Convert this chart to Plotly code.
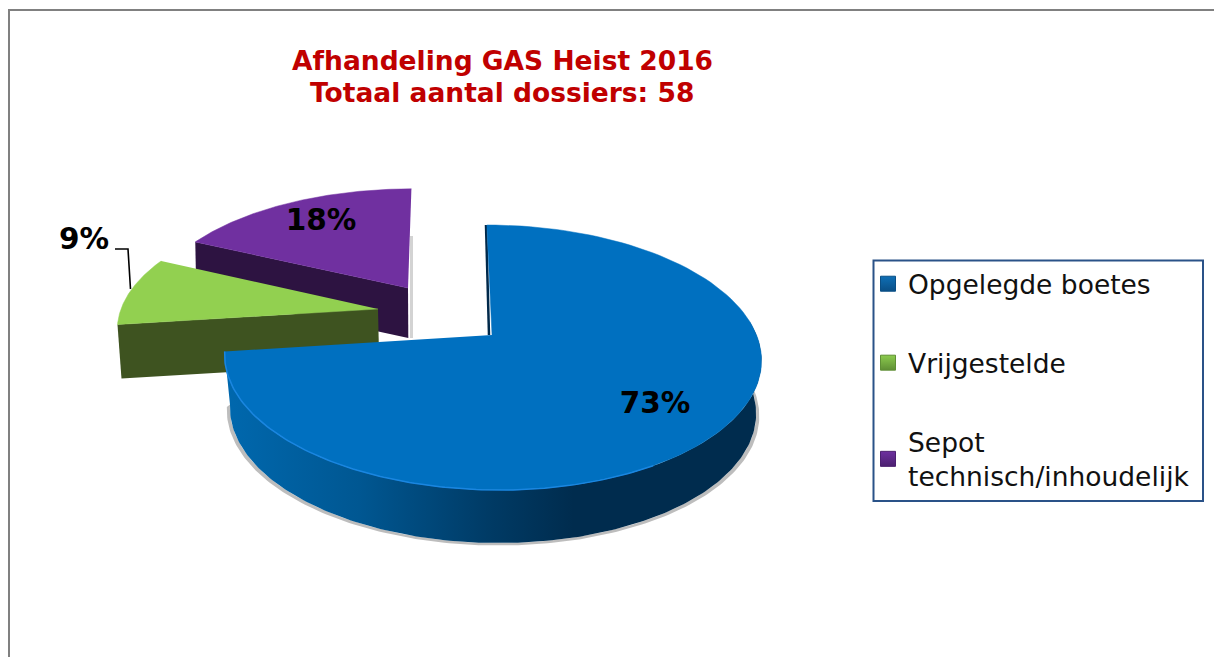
import numpy as np
import plotly.graph_objects as go

# ---- data ----
categories = ["Opgelegde boetes", "Vrijgestelde", "Sepot<br>technisch/inhoudelijk"]
percentages = [73, 9, 18]
title_lines = ["Afhandeling GAS Heist 2016", "Totaal aantal dossiers: 58"]

# ---- styling ----
W, H = 1214, 657
TOP = ["#0070C0", "#92D050", "#7030A0"]
SIDE = ["#00508A", "#3E5320", "#2D1341"]
LEGEND_MARK = ["#0F6FB5", "#8CCB4E", "#6E30A0"]
LEGEND_DARK = ["#0A4F86", "#5F8F35", "#4C2070"]
FONT = "DejaVu Sans"
# per-slice projection: apex x, apex y, horizontal radius, vertical radius, skew, depth
PROJ = [
    dict(ax=492, ay=335, B=264.5, A=128.7, sk=-6, dx=4, dy=54),
    dict(ax=378, ay=309, B=257, A=121, sk=0, dx=4, dy=54),
    dict(ax=408, ay=288, B=254, A=116, sk=4, dx=1, dy=50),
]
PERSP = 0.17

fracs = np.array(percentages) / sum(percentages)
edges = np.concatenate([[0], np.cumsum(fracs)]) * 2 * np.pi


def rim(p, t):
    X, Y = np.sin(t), np.cos(t)
    d = 1 + PERSP * Y
    return p["ax"] + (p["B"] * X + p["sk"] * Y) / d, p["ay"] - p["A"] * Y / d


def poly(xs, ys, color=None, grad=None, line=None):
    kw = dict(x=list(xs), y=list(ys), mode="lines", fill="toself", showlegend=False,
              hoverinfo="skip", line=dict(width=0.5 if line else 0, color=line or "rgba(0,0,0,0)"))
    if grad:
        kw["fillgradient"] = dict(type="horizontal", colorscale=grad)
    else:
        kw["fillcolor"] = color
    return go.Scatter(**kw)


def radial_face(p, t, color):
    x, y = rim(p, np.array([t]))
    xs = [x[0], p["ax"], p["ax"] + p["dx"] * 0.3, x[0] + p["dx"]]
    ys = [y[0], p["ay"], p["ay"] + p["dy"], y[0] + p["dy"]]
    return poly(xs, ys, color)


def top_face(p, t0, t1, color):
    t = np.linspace(t0, t1, 120)
    x, y = rim(p, t)
    return poly(np.r_[p["ax"], x], np.r_[p["ay"], y], color, line=color)


traces = []

# purple slice
p = PROJ[2]
tx = np.array([p["ax"] + 5, p["ax"] + 5, p["ax"] + 2, p["ax"] + 2])
traces.append(poly(tx, [p["ay"] - 52, p["ay"] + 50, p["ay"] + 50, p["ay"] - 52], "rgba(110,110,110,0.3)"))
traces.append(radial_face(p, edges[2], SIDE[2]))
traces.append(top_face(p, edges[2], edges[3], TOP[2]))

# green slice
p = PROJ[1]
x_end, y_end = rim(p, np.array([edges[2]]))
traces.append(poly([x_end[0] + p["dx"] - 2, p["ax"], p["ax"], x_end[0] + p["dx"] - 2],
                   [y_end[0] + p["dy"] - 4, p["ay"] + p["dy"] - 6, p["ay"] + p["dy"] - 2, y_end[0] + p["dy"] + 2],
                   "rgba(110,110,110,0.4)"))
traces.append(radial_face(p, edges[1], SIDE[1]))
traces.append(top_face(p, edges[1], edges[2], TOP[1]))

# blue slice
p = PROJ[0]
ts = np.linspace(np.radians(84), edges[1], 200)
sx, sy = rim(p, ts)
bx, by = p["ax"] + (sx - p["ax"]) * 0.98, sy + p["dy"] - 1
shx, shy = p["ax"] + (bx - p["ax"]) * 1.012, by + 2.5
traces.append(poly(np.r_[bx, shx[::-1]], np.r_[by, shy[::-1]], "rgba(90,90,90,0.4)"))
traces.append(poly(np.r_[sx, bx[::-1]], np.r_[sy, by[::-1]],
                   grad=[[0, "#0068AE"], [0.25, "#005792"], [0.5, "#003A64"],
                         [0.65, "#002C4E"], [1, "#002C4E"]]))
traces.append(go.Scatter(x=[p["ax"] - 3, p["ax"] - 6], y=[p["ay"], p["ay"] - 110], mode="lines",
                         line=dict(color="#00294A", width=2.5), showlegend=False, hoverinfo="skip"))
traces.append(top_face(p, edges[0], edges[1], TOP[0]))
hl = np.linspace(np.radians(150), edges[1], 120)
hx, hy = rim(p, hl)
traces.append(go.Scatter(x=hx, y=hy, mode="lines", line=dict(color="#1A86E0", width=1.5),
                         showlegend=False, hoverinfo="skip"))

# leader line for the small slice
traces.append(go.Scatter(x=[115, 128, 130.5], y=[249, 249, 289], mode="lines",
                         line=dict(color="#000", width=1.6), showlegend=False, hoverinfo="skip"))

# percentage labels
LABEL_XY = [(655, 406), (84, 242), (321, 223)]
for v, (lx, ly) in zip(percentages, LABEL_XY):
    traces.append(go.Scatter(x=[lx], y=[ly], mode="text", text=[f"{v}%"], showlegend=False,
                             textposition="middle center", hoverinfo="skip",
                             textfont=dict(family=FONT, size=29.5, color="#000", weight="bold")))

# legend entries
for i, name in enumerate(categories):
    traces.append(go.Scatter(x=[None], y=[None], mode="markers", name=name, legendgroup=str(i),
                             marker=dict(symbol="square", size=15, color=LEGEND_MARK[i],
                                         gradient=dict(type="vertical", color=LEGEND_DARK[i]),
                                         line=dict(color=LEGEND_DARK[i], width=1))))

fig = go.Figure(traces)
title_ann = [dict(x=502 / W, y=1 - yy / H, xref="paper", yref="paper", showarrow=False,
                  yanchor="middle", xanchor="center", text=f"<b>{t}</b>",
                  font=dict(family=FONT, size=26.5, color="#C00000"))
             for t, yy in zip(title_lines, (60, 92))]
fig.update_layout(
    width=W, height=H, margin=dict(l=0, r=0, t=0, b=0),
    paper_bgcolor="#fff", plot_bgcolor="#fff", hovermode=False,
    xaxis=dict(range=[0, W], visible=False, fixedrange=True),
    yaxis=dict(range=[H, 0], visible=False, fixedrange=True),
    font=dict(family=FONT),
    legend=dict(x=868 / W, xanchor="left", y=1 - 260 / H, yanchor="top",
                font=dict(family=FONT, size=26.5, color="#111"),
                tracegroupgap=41.5, bgcolor="rgba(0,0,0,0)", borderwidth=0),
    annotations=title_ann,
    shapes=[
        dict(type="line", x0=8, x1=W, y0=10, y1=10, line=dict(color="#808080", width=2)),
        dict(type="line", x0=9, x1=9, y0=10, y1=H, line=dict(color="#808080", width=2)),
        dict(type="rect", x0=873.5, x1=1203, y0=260.5, y1=501, line=dict(color="#2A5288", width=2)),
    ],
)
fig.write_html("out.html", default_width=W, default_height=H,
               config={"displayModeBar": False},
               post_script="document.body.style.margin='0';document.body.style.overflow='hidden';")
